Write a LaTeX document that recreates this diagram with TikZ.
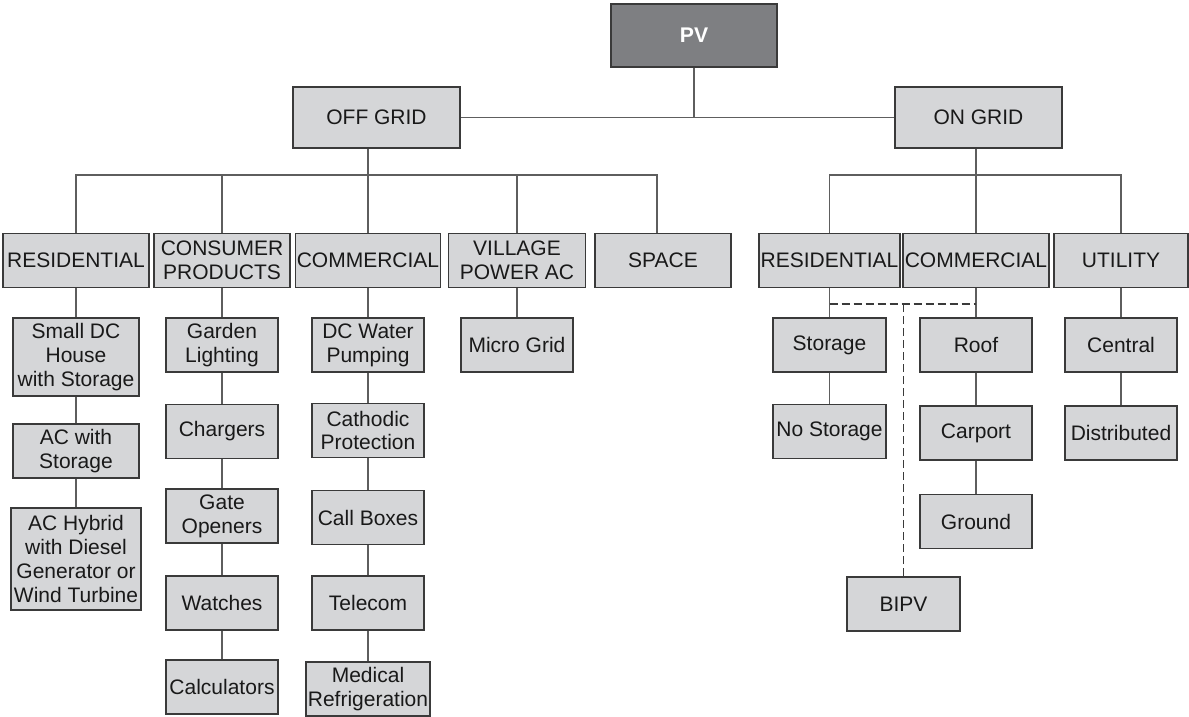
\documentclass[tikz,border=0pt]{standalone}
\usepackage{fontspec}
\setmainfont{Liberation Sans}
\usepackage{tikz}
\usetikzlibrary{positioning}
\definecolor{boxfill}{HTML}{D5D6D8}
\definecolor{boxline}{HTML}{3A3A3A}
\definecolor{pvfill}{HTML}{7E7F82}
\definecolor{linkgray}{HTML}{5E5E5E}

\begin{document}
\begin{tikzpicture}[x=0.5pt, y=-0.5pt,
  font=\fontsize{10.5}{11.85}\selectfont,
  box/.style={draw=boxline, line width=0.9pt, fill=boxfill, text=black!90,
    align=center, inner sep=0pt, minimum width=56pt, minimum height=27pt},
  link/.style={draw=linkgray, line width=0.7pt},
  dashlink/.style={draw=boxline, line width=0.7pt, dash pattern=on 4pt off 2pt}]
  \useasboundingbox (0,0) rectangle (1189,717);

  \node[box, fill=pvfill, text=white, font=\fontsize{10.6}{11.85}\selectfont\bfseries,
    minimum width=83pt, minimum height=31.5pt] (pv) at (694,35.5) {PV};
  \node[box, minimum width=83.5pt, minimum height=30.5pt] (off) at (376.5,117.5) {OFF GRID};
  \node[box, minimum width=83.5pt, minimum height=30.5pt] (on) at (978.5,117.5) {ON GRID};

  \node[box, minimum width=73pt] (offres) at (76,260.5) {RESIDENTIAL};
  \node[box, minimum width=68pt] (cons) at (222,260.5) {CONSUMER\\PRODUCTS};
  \node[box, minimum width=72.5pt] (offcom) at (368,260.5) {COMMERCIAL};
  \node[box, minimum width=68.5pt] (village) at (517,260.5) {VILLAGE\\POWER AC};
  \node[box, minimum width=68pt] (space) at (663,260.5) {SPACE};
  \node[box, minimum width=70.5pt] (onres) at (829.5,260.5) {RESIDENTIAL};
  \node[box, minimum width=73pt] (oncom) at (976,260.5) {COMMERCIAL};
  \node[box, minimum width=67pt] (utility) at (1121,260.5) {UTILITY};

  \node[box, minimum width=63pt, minimum height=39pt] (smalldc) at (76,357) {Small DC\\House\\with Storage};
  \node[box, minimum width=63pt] (acstor) at (76,451) {AC with\\Storage};
  \node[box, minimum width=65pt, minimum height=51pt] (achybrid) at (76,559) {AC Hybrid\\with Diesel\\Generator or\\Wind Turbine};

  \node[box] (garden) at (222,345) {Garden\\Lighting};
  \node[box] (chargers) at (222,431.5) {Chargers};
  \node[box] (gate) at (222,516) {Gate\\Openers};
  \node[box] (watches) at (222,603) {Watches};
  \node[box] (calc) at (222,687) {Calculators};

  \node[box] (dcwater) at (368,345) {DC Water\\Pumping};
  \node[box] (cathodic) at (368,430.5) {Cathodic\\Protection};
  \node[box] (callbox) at (368,517.5) {Call Boxes};
  \node[box] (telecom) at (368,603) {Telecom};
  \node[box, minimum width=62pt] (medical) at (368,689) {Medical\\Refrigeration};

  \node[box] (microgrid) at (517,345) {Micro Grid};

  \node[box, minimum width=56.5pt] (storage) at (829.5,345) {Storage};
  \node[box, minimum width=56.5pt] (nostorage) at (829.5,431.5) {No Storage};
  \node[box] (roof) at (976,345) {Roof};
  \node[box] (carport) at (976,433) {Carport};
  \node[box] (ground) at (976,521.5) {Ground};
  \node[box] (central) at (1121,345) {Central};
  \node[box] (distrib) at (1121,433) {Distributed};
  \node[box, minimum width=56.5pt] (bipv) at (903.5,604) {BIPV};

  \coordinate (offbus) at (368,175);
  \coordinate (onbus) at (976,175);

  \path[link]
  (pv) edge (pv |- off.east)
  (off) edge (on)
  (off.south -| offbus) edge (offcom)
  (on.south -| onbus) edge (oncom)
  (cons) edge (cons |- offbus)
  (village) edge (village |- offbus)
  (offres) edge (smalldc)
  (smalldc) edge (acstor)
  (acstor) edge (achybrid)
  (cons) edge (garden)
  (garden) edge (chargers)
  (chargers) edge (gate)
  (gate) edge (watches)
  (watches) edge (calc)
  (offcom) edge (dcwater)
  (dcwater) edge (cathodic)
  (cathodic) edge (callbox)
  (callbox) edge (telecom)
  (telecom) edge (medical)
  (village) edge (microgrid)
  (onres) edge (storage)
  (storage) edge (nostorage)
  (oncom) edge (roof)
  (roof) edge (carport)
  (carport) edge (ground)
  (utility) edge (central)
  (central) edge (distrib);

  \draw[link] (offres) |- (offbus) -| ([xshift=-3pt]space.north);
  \draw[link] (onres) |- (onbus) -| (utility);

  \draw[dashlink] (storage |- 0,304) -- (roof |- 0,304);
  \draw[dashlink] (bipv) -- (bipv |- 0,304);
\end{tikzpicture}
\end{document}
